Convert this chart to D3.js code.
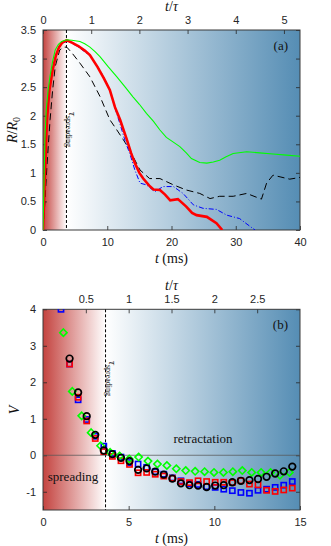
<!DOCTYPE html>
<html>
<head>
<meta charset="utf-8">
<script src="https://cdn.jsdelivr.net/npm/d3@7"></script>
<style>
    body { margin: 0; background: #fff; }
    .tick text { font-family: "Liberation Sans", Arial, sans-serif; font-size: 11px; fill: #262626; }
    .tick line { stroke: #262626; stroke-width: 0.8; }
    .label { font-family: "Liberation Serif", "Times New Roman", serif; fill: #111; }
</style>
</head>
<body>
<svg id="chart" width="331" height="546"></svg>
<script>
"use strict";

// ---- panel (a): drop radius R/R0 vs t (ms)
const radiusTicks = [0, 0.5, 1, 1.5, 2, 2.5, 3, 3.5];
const timeTicksA = [0, 10, 20, 30, 40];
const tauTicksA = [0, 1, 2, 3, 4, 5];
const tauA = 7.5;          // ms
const spreadingTime = 3.65; // ms

const radiusRed = [[0, 0], [0.2, 0.6], [0.4, 1.3], [0.6, 1.9], [1.0, 2.45], [1.5, 2.8], [2.0, 3.05], [2.5, 3.2],
    [3.0, 3.28], [3.7, 3.32], [4.5, 3.28], [5.5, 3.22], [6.5, 3.14], [7.3, 3.06], [8.5, 2.85], [9.5, 2.65],
    [10.4, 2.45], [11.2, 2.15], [12, 1.93], [13, 1.6], [13.7, 1.35], [14.3, 1.17], [15, 1.0], [15.6, 0.9],
    [16.5, 0.78], [17.2, 0.71], [18.2, 0.7], [19, 0.62], [19.8, 0.52], [21, 0.54], [22.3, 0.41], [23.2, 0.3],
    [23.9, 0.26], [25.5, 0.23], [27, 0.12], [27.9, 0]];
const radiusBlue = [[0, 0], [0.2, 0.6], [0.4, 1.3], [0.6, 1.9], [1.0, 2.45], [1.5, 2.8], [2.0, 3.05], [2.5, 3.2],
    [3.0, 3.27], [3.7, 3.3], [4.5, 3.27], [5.5, 3.2], [6.5, 3.12], [7.3, 3.05], [8.5, 2.86], [9.5, 2.67],
    [10.4, 2.45], [11.3, 2.1], [12, 1.85], [12.8, 1.55], [13.5, 1.34], [14.3, 1.05], [15.1, 0.82], [16.1, 0.79],
    [17.4, 0.67], [18.7, 0.76], [20.3, 0.76], [21.8, 0.64], [23.4, 0.44], [24.9, 0.38], [27, 0.36], [28.6, 0.26],
    [30.6, 0.2], [31.9, 0.09], [33, 0]];
const radiusGreen = [[0, 0], [0.15, 0.8], [0.3, 1.6], [0.5, 2.1], [0.8, 2.45], [1.1, 2.7], [1.5, 2.95], [1.9, 3.15],
    [2.4, 3.25], [2.9, 3.3], [3.7, 3.33], [4.5, 3.32], [5.75, 3.3], [6.5, 3.26], [7.3, 3.2], [8.1, 3.12],
    [8.9, 3.03], [10.2, 2.85], [11.5, 2.68], [12.8, 2.5], [14, 2.33], [15, 2.2], [16.1, 2.04], [17.2, 1.9],
    [18.2, 1.75], [19.2, 1.62], [20, 1.56], [21.3, 1.46], [22.3, 1.35], [23.1, 1.25], [24.4, 1.18], [25.5, 1.17],
    [26.5, 1.19], [27.5, 1.22], [28.5, 1.28], [29.6, 1.34], [31.7, 1.37], [33.7, 1.35], [35.8, 1.33],
    [37.9, 1.31], [40, 1.29]];
const radiusBlack = [[0, 0], [0.3, 0.5], [0.6, 1.1], [1.1, 1.93], [1.5, 2.45], [1.9, 2.86], [2.6, 3.15], [3.2, 3.2],
    [3.7, 3.2], [4.5, 3.1], [5.75, 2.92], [7.3, 2.68], [8.9, 2.33], [10.4, 1.93], [11.5, 1.75], [12.5, 1.58],
    [13.5, 1.4], [15.1, 1.05], [16.6, 0.9], [18.2, 0.9], [20.3, 0.79], [22.3, 0.7], [24.4, 0.64], [26, 0.55],
    [27.5, 0.59], [29.6, 0.59], [31.7, 0.64], [34, 0.54], [34.8, 0.82], [35.8, 0.96], [36.9, 0.93],
    [38.4, 0.89], [40, 0.92]];

// ---- panel (b): contact line velocity V vs t (ms)
const velocityTicks = [-1, 0, 1, 2, 3, 4];
const timeTicksB = [0, 5, 10, 15];
const tauTicksB = [0.5, 1, 1.5, 2, 2.5];
const tauB = 5; // ms

const timesSquare = [1.05, 1.55, 2.05, 2.55, 3.05, 3.55, 4.05, 4.55, 5.05, 5.55, 6.05, 6.55, 7.05, 7.55, 8.05,
    8.55, 9.05, 9.55, 10.05, 10.55, 11.05, 11.55, 12.05, 12.55, 13.05, 13.55, 14.05, 14.55];
const velocityBlue = [4.0, 2.5, 1.52, 0.98, 0.52, 0.25, 0.05, -0.05, -0.2, -0.24, -0.33, -0.45, -0.52, -0.62,
    -0.7, -0.78, -0.8, -0.86, -0.88, -0.93, -0.97, -1.02, -1.04, -0.96, -0.93, -0.88, -0.82, -0.72];
const velocityRed = [null, 2.5, 1.59, 0.94, 0.46, 0.1, -0.03, -0.15, -0.25, -0.48, -0.47, -0.52, -0.57, -0.63,
    -0.72, -0.75, -0.7, -0.72, -0.74, -0.74, -0.75, -0.7, -0.79, -0.81, -0.96, -0.99, -0.95, -0.9];
const velocityBlack = [null, 2.65, 1.72, 1.07, 0.56, 0.13, 0.03, -0.07, -0.16, -0.4, -0.36, -0.45, -0.53, -0.64,
    -0.77, -0.82, -0.83, -0.87, -0.83, -0.82, -0.74, -0.7, -0.68, -0.65, -0.59, -0.5, -0.44, -0.31];
const timesDiamond = [1.19, 1.71, 2.26, 2.81, 3.36, 3.92, 4.47, 5.03, 5.58, 6.13, 6.68, 7.23, 7.78, 8.33, 8.88,
    9.43, 9.98, 10.53, 11.08, 11.63, 12.18, 12.73, 13.28, 13.83, 14.38];
const velocityGreen = [3.36, 1.75, 1.08, 0.62, 0.26, 0.08, -0.02, -0.1, -0.05, -0.16, -0.24, -0.28, -0.37, -0.42,
    -0.44, -0.45, -0.47, -0.47, -0.45, -0.42, -0.47, -0.47, -0.47, -0.55, -0.47];


const RED_BG = '#c4433f';
const BLUE_BG = '#558db4';
const svg = d3.select('#chart');
const defs = svg.append('defs');

/**
 * Draws the frame, the shaded background and the four axes of one panel.
 */
function makePanel(opts) {
    const x = d3.scaleLinear().domain(opts.xDomain).range([43, 300]);
    const y = d3.scaleLinear().domain(opts.yDomain).range([opts.bottom, opts.top]);
    const tau = d3.scaleLinear().domain([0, opts.xDomain[1] / opts.tau]).range([43, 300]);
    const g = svg.append('g');

    // background: red up to the end of spreading, then white to blue
    const grad = defs.append('linearGradient').attr('id', opts.id + '-bg')
        .attr('gradientUnits', 'userSpaceOnUse')
        .attr('x1', x.range()[0]).attr('x2', x.range()[1]).attr('y1', 0).attr('y2', 0);
    const split = (x(spreadingTime) - 43) / (300 - 43);
    grad.append('stop').attr('offset', 0).attr('stop-color', RED_BG);
    grad.append('stop').attr('offset', split).attr('stop-color', '#ffffff');
    grad.append('stop').attr('offset', 1).attr('stop-color', BLUE_BG);
    g.append('rect').attr('x', 43).attr('y', opts.top).attr('width', 257).attr('height', opts.bottom - opts.top)
        .attr('fill', `url(#${opts.id}-bg)`);

    defs.append('clipPath').attr('id', opts.id + '-clip')
        .append('rect').attr('x', 43).attr('y', opts.top).attr('width', 257).attr('height', opts.bottom - opts.top);

    const fmt = d => String(d);
    g.append('g').attr('transform', `translate(0,${opts.bottom})`)
        .call(d3.axisBottom(x).tickValues(opts.xTicks).tickSize(-4).tickPadding(8).tickFormat(fmt));
    g.append('g').attr('transform', `translate(0,${opts.top})`)
        .call(d3.axisTop(tau).tickValues(opts.tauTicks).tickSize(-4).tickPadding(6).tickFormat(fmt));
    g.append('g').attr('transform', 'translate(43,0)')
        .call(d3.axisLeft(y).tickValues(opts.yTicks).tickSize(-4).tickPadding(7).tickFormat(fmt));
    g.append('g').attr('transform', 'translate(300,0)')
        .call(d3.axisRight(y).tickValues(opts.yTicks).tickSize(-4).tickFormat(''));
    g.selectAll('.domain').remove();

    g.append('rect').attr('x', 43).attr('y', opts.top).attr('width', 257).attr('height', opts.bottom - opts.top)
        .attr('fill', 'none').attr('stroke', '#3a3a3a').attr('stroke-width', 1);

    // spreading time marker
    const layer = svg.append('g').attr('clip-path', `url(#${opts.id}-clip)`);
    layer.append('line')
        .attr('x1', x(spreadingTime)).attr('x2', x(spreadingTime))
        .attr('y1', opts.top).attr('y2', opts.bottom)
        .attr('stroke', '#000').attr('stroke-width', 1).attr('stroke-dasharray', '3,2');

    // axis descriptions
    svg.append('text').attr('class', 'label').attr('x', 171.5).attr('y', opts.top - 19)
        .attr('text-anchor', 'middle').style('font-size', '14px')
        .html('<tspan font-style="italic">t</tspan>/<tspan font-style="italic">τ</tspan>');
    svg.append('text').attr('class', 'label').attr('x', 171.5).attr('y', opts.bottom + 33)
        .attr('text-anchor', 'middle').style('font-size', '14px')
        .html('<tspan font-style="italic">t</tspan> (ms)');
    svg.append('text').attr('class', 'label').attr('x', 288).attr('y', opts.top + 20)
        .attr('text-anchor', 'end').style('font-size', '13px').text(opts.letter);

    const sx = x(spreadingTime) + 3;
    svg.append('text').attr('class', 'label')
        .attr('transform', `translate(${sx},${opts.spreadLabelY}) rotate(90)`)
        .style('font-size', '11px')
        .html('<tspan font-style="italic">τ</tspan><tspan dy="3" style="font-size:8px">spreading</tspan>');

    return { x, y, layer };
}

// ---------- panel (a)
const panelA = makePanel({
    id: 'a', top: 30, bottom: 230, xDomain: [0, 40], yDomain: [0, 3.5], tau: tauA,
    xTicks: timeTicksA, yTicks: radiusTicks, tauTicks: tauTicksA, letter: '(a)', spreadLabelY: 112
});
const lineA = d3.line().x(d => panelA.x(d[0])).y(d => panelA.y(d[1]));
panelA.layer.append('path').datum(radiusBlack).attr('d', lineA).attr('fill', 'none')
    .attr('stroke', '#000').attr('stroke-width', 1).attr('stroke-dasharray', '7,4');
panelA.layer.append('path').datum(radiusBlue).attr('d', lineA).attr('fill', 'none')
    .attr('stroke', '#0000ff').attr('stroke-width', 1).attr('stroke-dasharray', '5,2,1,2');
panelA.layer.append('path').datum(radiusRed).attr('d', lineA).attr('fill', 'none')
    .attr('stroke', '#ff0000').attr('stroke-width', 2.6);
panelA.layer.append('path').datum(radiusGreen).attr('d', lineA).attr('fill', 'none')
    .attr('stroke', '#00ff00').attr('stroke-width', 1.1);

svg.append('text').attr('class', 'label')
    .attr('transform', 'translate(17,130) rotate(-90)').attr('text-anchor', 'middle').style('font-size', '14px')
    .html('<tspan font-style="italic">R</tspan>/<tspan font-style="italic">R</tspan><tspan dy="3" style="font-size:10px">0</tspan>');

// ---------- panel (b)
const panelB = makePanel({
    id: 'b', top: 309.3, bottom: 510, xDomain: [0, 15], yDomain: [-1.5, 4], tau: tauB,
    xTicks: timeTicksB, yTicks: velocityTicks, tauTicks: tauTicksB, letter: '(b)', spreadLabelY: 361
});

// zero velocity line
panelB.layer.append('line')
    .attr('x1', 43).attr('x2', 300).attr('y1', panelB.y(0)).attr('y2', panelB.y(0))
    .attr('stroke', '#555').attr('stroke-opacity', 0.75).attr('stroke-width', 1);

svg.append('text').attr('class', 'label').attr('x', 73).attr('y', 481)
    .attr('text-anchor', 'middle').style('font-size', '13px').text('spreading');
svg.append('text').attr('class', 'label').attr('x', 203).attr('y', 443)
    .attr('text-anchor', 'middle').style('font-size', '13px').text('retractation');

svg.append('text').attr('class', 'label')
    .attr('transform', 'translate(19,410) rotate(-90)').attr('text-anchor', 'middle').style('font-size', '14px')
    .attr('font-style', 'italic').text('V');

const pointsOf = (times, values) => times.map((t, i) => [t, values[i]]).filter(d => d[1] !== null);
const marks = panelB.layer.append('g');

function drawSquares(points, colour) {
    marks.append('g').selectAll('rect').data(points).join('rect')
        .attr('x', d => panelB.x(d[0]) - 2.6).attr('y', d => panelB.y(d[1]) - 2.6)
        .attr('width', 5.2).attr('height', 5.2)
        .attr('fill', 'none').attr('stroke', colour).attr('stroke-width', 1.6);
}
drawSquares(pointsOf(timesSquare, velocityBlue), '#0000ff');
drawSquares(pointsOf(timesSquare, velocityRed), '#ff0000');

const diamond = d3.symbol().type(d3.symbolDiamond2).size(34);
marks.append('g').selectAll('path').data(pointsOf(timesDiamond, velocityGreen)).join('path')
    .attr('transform', d => `translate(${panelB.x(d[0])},${panelB.y(d[1])})`)
    .attr('d', diamond).attr('fill', 'none').attr('stroke', '#00ff00').attr('stroke-width', 1.6);

marks.append('g').selectAll('circle').data(pointsOf(timesSquare, velocityBlack)).join('circle')
    .attr('cx', d => panelB.x(d[0])).attr('cy', d => panelB.y(d[1])).attr('r', 3.3)
    .attr('fill', 'none').attr('stroke', '#000').attr('stroke-width', 1.7);
</script>
</body>
</html>
